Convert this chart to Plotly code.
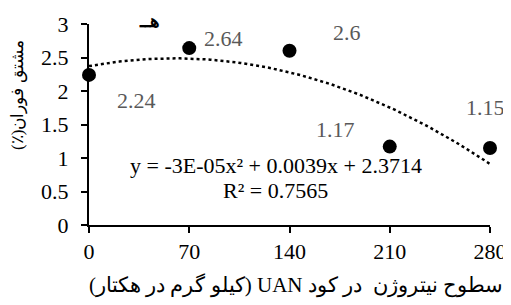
import numpy as np
import plotly.graph_objects as go

# ---- data ----
x_levels = [0, 70, 140, 210, 280]
y_values = [2.24, 2.64, 2.6, 1.17, 1.15]
point_labels = ["2.24", "2.64", "2.6", "1.17", "1.15"]
label_xshift = [47, 34, 57, -54, -5]
label_yshift = [-26, 10, 18, 17, 40]
x_tick_vals = [0, 70, 140, 210, 280]
y_tick_vals = [0, 0.5, 1, 1.5, 2, 2.5, 3]
equation_text = "y = -3E-05x² + 0.0039x + 2.3714"
r2_text = "R² = 0.7565"
panel_title = "هـ"
y_title = "مشتق فوران(٪)"
x_title = "سطوح نیتروژن  در کود UAN (کیلو گرم در هکتار)"

RLE, PDF = "\u202b", "\u202c"
SERIF = "Times New Roman, Liberation Serif, DejaVu Serif, serif"

# polynomial (order 2) trendline, as in the spreadsheet
coef = np.polyfit(x_levels, y_values, 2)
xs = np.linspace(min(x_levels), max(x_levels), 120)
ys = np.polyval(coef, xs)

fig = go.Figure()
fig.add_trace(go.Scatter(x=xs, y=ys, mode="lines",
                         line=dict(color="black", width=2.5, dash="dot"),
                         hoverinfo="skip", showlegend=False))
fig.add_trace(go.Scatter(x=x_levels, y=y_values, mode="markers",
                         marker=dict(color="black", size=14),
                         cliponaxis=False, showlegend=False))

for xv, yv, t, dx, dy in zip(x_levels, y_values, point_labels, label_xshift, label_yshift):
    fig.add_annotation(x=xv, y=yv, xref="x", yref="y", text=t, showarrow=False,
                       xshift=dx, yshift=dy, xanchor="center", yanchor="middle",
                       font=dict(family=SERIF, size=22, color="#595959"))

def paper_note(x, y, text, size, angle=0, yanchor="middle"):
    fig.add_annotation(x=x, y=y, xref="paper", yref="paper", text=text,
                       showarrow=False, xanchor="center", yanchor=yanchor,
                       textangle=angle,
                       font=dict(family=SERIF, size=size, color="black"))

paper_note(0.466, 0.294, equation_text, 22)
paper_note(0.466, 0.174, r2_text, 22)
paper_note(0.152, 1.075, "<b>" + panel_title + "ـ</b>", 18, yanchor="top")
paper_note(-0.177, 0.647, RLE + y_title + PDF, 17, angle=-90)
paper_note(0.516, -0.30, RLE + x_title + PDF, 21)

axis_common = dict(showgrid=False, zeroline=False, automargin=False,
                   showline=True, linecolor="black", linewidth=2,
                   ticks="outside", ticklen=6, tickwidth=1.5, tickcolor="black",
                   tickfont=dict(family=SERIF, size=22, color="black"))
fig.update_xaxes(range=[0, 280], tickvals=x_tick_vals, **axis_common)
fig.update_yaxes(range=[0, 3], tickvals=y_tick_vals, ticklabelstandoff=8, **axis_common)

# page body adds an 8px margin, so the figure is sized to land the plot area
# at the same window pixels as the reference
fig.update_layout(template="none", width=503, height=297,
                  margin=dict(l=81, r=21, t=16, b=80),
                  font=dict(family=SERIF),
                  paper_bgcolor="white", plot_bgcolor="white", showlegend=False)

fig.write_html("out.html")
